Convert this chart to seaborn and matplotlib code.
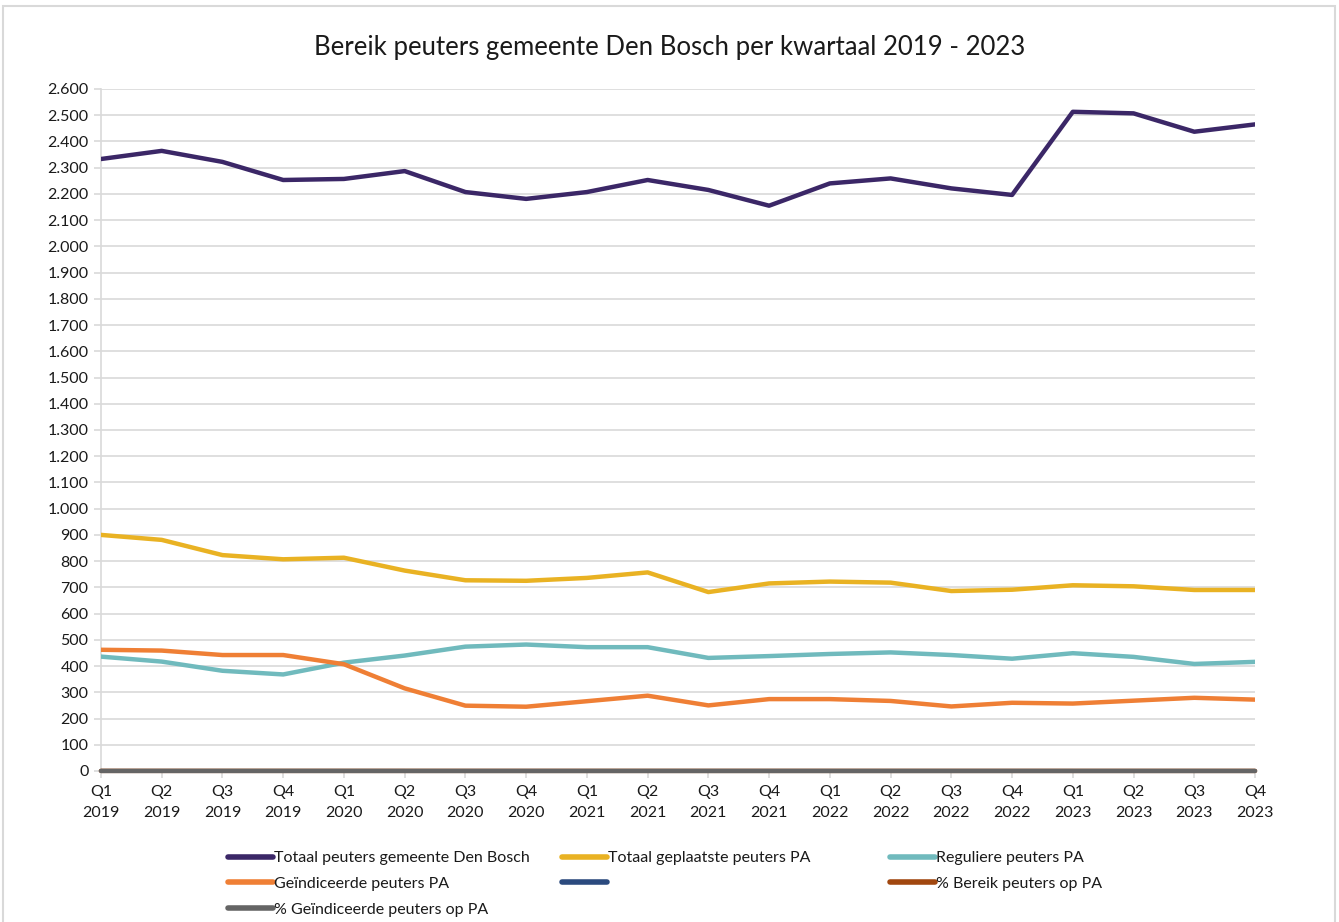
import numpy as np
import pandas as pd
import matplotlib
matplotlib.use("Agg")
import matplotlib.pyplot as plt
import seaborn as sns
from matplotlib.ticker import FuncFormatter, MultipleLocator
from matplotlib.lines import Line2D
from matplotlib.patches import Rectangle

# data
quarters = [f"Q{q}\n{y}" for y in range(2019, 2024) for q in range(1, 5)]

totaal_den_bosch = [2333, 2364, 2322, 2253, 2257, 2287, 2207, 2181, 2207, 2253,
                    2215, 2155, 2240, 2259, 2221, 2196, 2513, 2507, 2437, 2465]
totaal_geplaatst = [900, 881, 823, 807, 813, 764, 727, 725, 736, 757,
                    682, 715, 722, 718, 686, 691, 708, 704, 690, 690]
regulier = [436, 417, 382, 368, 413, 440, 474, 482, 472, 472,
            431, 438, 446, 452, 442, 428, 449, 435, 408, 416]
geindiceerd = [462, 459, 442, 442, 407, 315, 249, 245, 266, 287,
               250, 274, 274, 267, 246, 260, 257, 268, 279, 272]
leeg = [np.nan] * 20
pct_bereik = [0.39, 0.39, 0.38, 0.36, 0.36, 0.34, 0.33, 0.33, 0.33, 0.34,
              0.31, 0.33, 0.32, 0.32, 0.31, 0.31, 0.28, 0.28, 0.28, 0.28]
pct_geindiceerd = [0.20, 0.20, 0.19, 0.20, 0.18, 0.14, 0.11, 0.11, 0.12, 0.13,
                   0.12, 0.13, 0.12, 0.12, 0.11, 0.12, 0.10, 0.11, 0.11, 0.11]

labels = ["Totaal peuters gemeente Den Bosch", "Totaal geplaatste peuters PA",
          "Reguliere peuters PA", "Geïndiceerde peuters PA", "",
          "% Bereik peuters op PA", "% Geïndiceerde peuters op PA"]
colors = ["#3b2767", "#e9b223", "#70babd", "#ef7f35", "#2b4a7e", "#a1470f", "#656565"]
series = [totaal_den_bosch, totaal_geplaatst, regulier, geindiceerd, leeg, pct_bereik, pct_geindiceerd]

sns.set_theme(style="white")
plt.rcParams['font.family'] = ['Liberation Sans Narrow', 'Lato', 'DejaVu Sans']

fig = plt.figure(figsize=(13.39, 9.22), dpi=100)
ax = fig.add_axes([0.0754, 0.1638, 0.8619, 0.7397])

x = np.arange(len(quarters))
for i, (vals, lab, col) in enumerate(zip(series, labels, colors)):
    df = pd.DataFrame({"x": x, "y": vals}).dropna()
    if df.empty:
        continue
    sns.lineplot(data=df, x="x", y="y", color=col, lw=3.2, ax=ax, legend=False, zorder=3 + i)
    if i >= 5:
        ax.lines[-1].set_clip_on(False)

ax.set_xlim(0, len(quarters) - 1)
ax.set_ylim(0, 2600)
ax.yaxis.set_major_locator(MultipleLocator(100))
ax.yaxis.set_major_formatter(FuncFormatter(lambda v, p: f"{int(v):,}".replace(",", ".")))
ax.set_xticks(x)
ax.set_xticklabels(quarters, linespacing=1.65)
ax.set_xlabel("")
ax.set_ylabel("")
ax.grid(axis="y", color="#d9d9d9", lw=1.2, zorder=0)
ax.tick_params(axis="both", labelsize=11.5, colors="#d9d9d9", labelcolor="#1a1a1a",
               length=5, width=1.2, direction="out")
ax.tick_params(axis="x", pad=5)
ax.tick_params(axis="y", pad=4)
ax.tick_params(bottom=True, left=True)
for s in ["top", "right", "bottom"]:
    ax.spines[s].set_visible(False)
ax.spines["left"].set_color("#d9d9d9")
ax.spines["left"].set_linewidth(1.2)

fig.suptitle("Bereik peuters gemeente Den Bosch per kwartaal 2019 - 2023",
             x=0.5, y=0.962, fontsize=18.5, color="#1a1a1a")

# legend in three columns placed like the original
handles = [Line2D([0], [0], color=c, lw=4) for c in colors]
cols = [[0, 3, 6], [1, 4], [2, 5]]
xpos = [228 / 1339, 562 / 1339, 890 / 1339]
for idx, xp in zip(cols, xpos):
    leg = fig.legend([handles[i] for i in idx], [labels[i] for i in idx],
                     loc="upper left", bbox_to_anchor=(xp, 1 - 851 / 922),
                     frameon=False, fontsize=11.5, handlelength=2.8,
                     handletextpad=0.1, labelspacing=0.72, borderaxespad=0,
                     borderpad=0)
    for t in leg.get_texts():
        t.set_color("#1a1a1a")

fig.patches.append(Rectangle((3 / 1339, -0.05), 1332 / 1339, 1.05 - 6 / 922,
                             transform=fig.transFigure, fill=False,
                             edgecolor="#d9d9d9", lw=1.5))

fig.savefig("out.png", dpi=100, facecolor="white")
